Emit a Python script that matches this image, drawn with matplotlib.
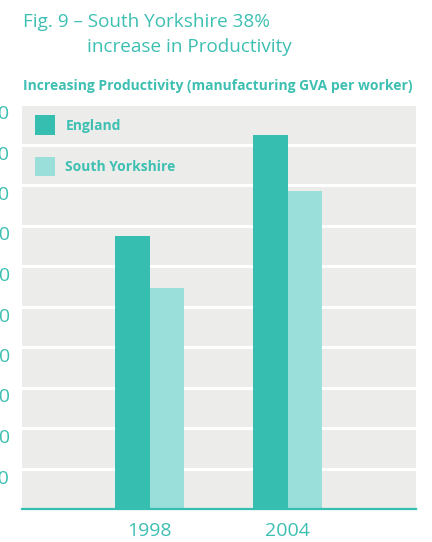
import matplotlib
matplotlib.use("Agg")
import matplotlib.pyplot as plt
from matplotlib.transforms import ScaledTranslation

# Manufacturing GVA per worker (GBP)
years = ["1998", "2004"]
england = [33700, 46200]
south_yorkshire = [27300, 39200]
y_ticks = [5000, 10000, 15000, 20000, 25000, 30000, 35000, 40000, 45000, 50000]
y_tick_labels = ["5,000", "10,000", "15,000", "20,000", "25,000",
                 "30,000", "35,000", "40,000", "45,000", "50,000"]

TEAL = "#36BEB1"
LIGHT = "#9ADFD9"
TEXT = "#3DBFB2"
PANEL = "#ECEDEB"

plt.rcParams["font.family"] = ["Open Sans", "DejaVu Sans"]

W, H = 432, 542
fig = plt.figure(figsize=(W / 100, H / 100), dpi=100)
fig.patch.set_facecolor("white")

left, right, top, bottom = 22, 416, 104, 509
ax = fig.add_axes([left / W, (H - bottom) / H, (right - left) / W, (bottom - top) / H])
ax.set_facecolor(PANEL)

x = list(range(len(years)))
bw = 0.25
ax.bar([i - bw / 2 for i in x], england, width=bw, color=TEAL, label="England", zorder=3)
ax.bar([i + bw / 2 for i in x], south_yorkshire, width=bw, color=LIGHT,
       label="South Yorkshire", zorder=3)

ax.set_xlim(-0.924, 1.931)
ax.set_ylim(0, 50000)

ax.set_yticks(y_ticks)
ax.set_yticklabels(y_tick_labels)
ax.yaxis.grid(True, color="white", linewidth=2.2, zorder=1)
ax.set_axisbelow(True)
ax.tick_params(axis="y", length=0, pad=8.6, labelsize=14, labelcolor=TEXT)
for lab in ax.get_yticklabels():
    lab.set_transform(lab.get_transform() + ScaledTranslation(0, -8 / 100, fig.dpi_scale_trans))

ax.set_xticks(x)
ax.set_xticklabels(years)
ax.tick_params(axis="x", length=0, pad=9, labelsize=14, labelcolor=TEXT)

for side in ["top", "left", "right"]:
    ax.spines[side].set_visible(False)
ax.spines["bottom"].set_color(TEAL)
ax.spines["bottom"].set_linewidth(1.6)
ax.spines["bottom"].set_zorder(4)

leg = ax.legend(loc="upper left", bbox_to_anchor=(0.0076, 0.9975), borderaxespad=0,
                frameon=False, fontsize=10, handlelength=1.44, handleheight=1.75,
                handletextpad=0.72, labelspacing=1.62, borderpad=0.75)
for t in leg.get_texts():
    t.set_color(TEXT)
    t.set_fontweight("bold")

fig.text(23 / W, 1 - 27 / H, "Fig. 9 \u2013 South Yorkshire 38%", color=TEXT,
         fontsize=13.6, ha="left", va="baseline")
fig.text(87 / W, 1 - 52 / H, "increase in Productivity", color=TEXT,
         fontsize=13.6, ha="left", va="baseline")
fig.text(23 / W, 1 - 90 / H, "Increasing Productivity (manufacturing GVA per worker)",
         color=TEXT, fontsize=10, fontweight="bold", ha="left", va="baseline")

fig.savefig("out.png", dpi=100, facecolor="white")
